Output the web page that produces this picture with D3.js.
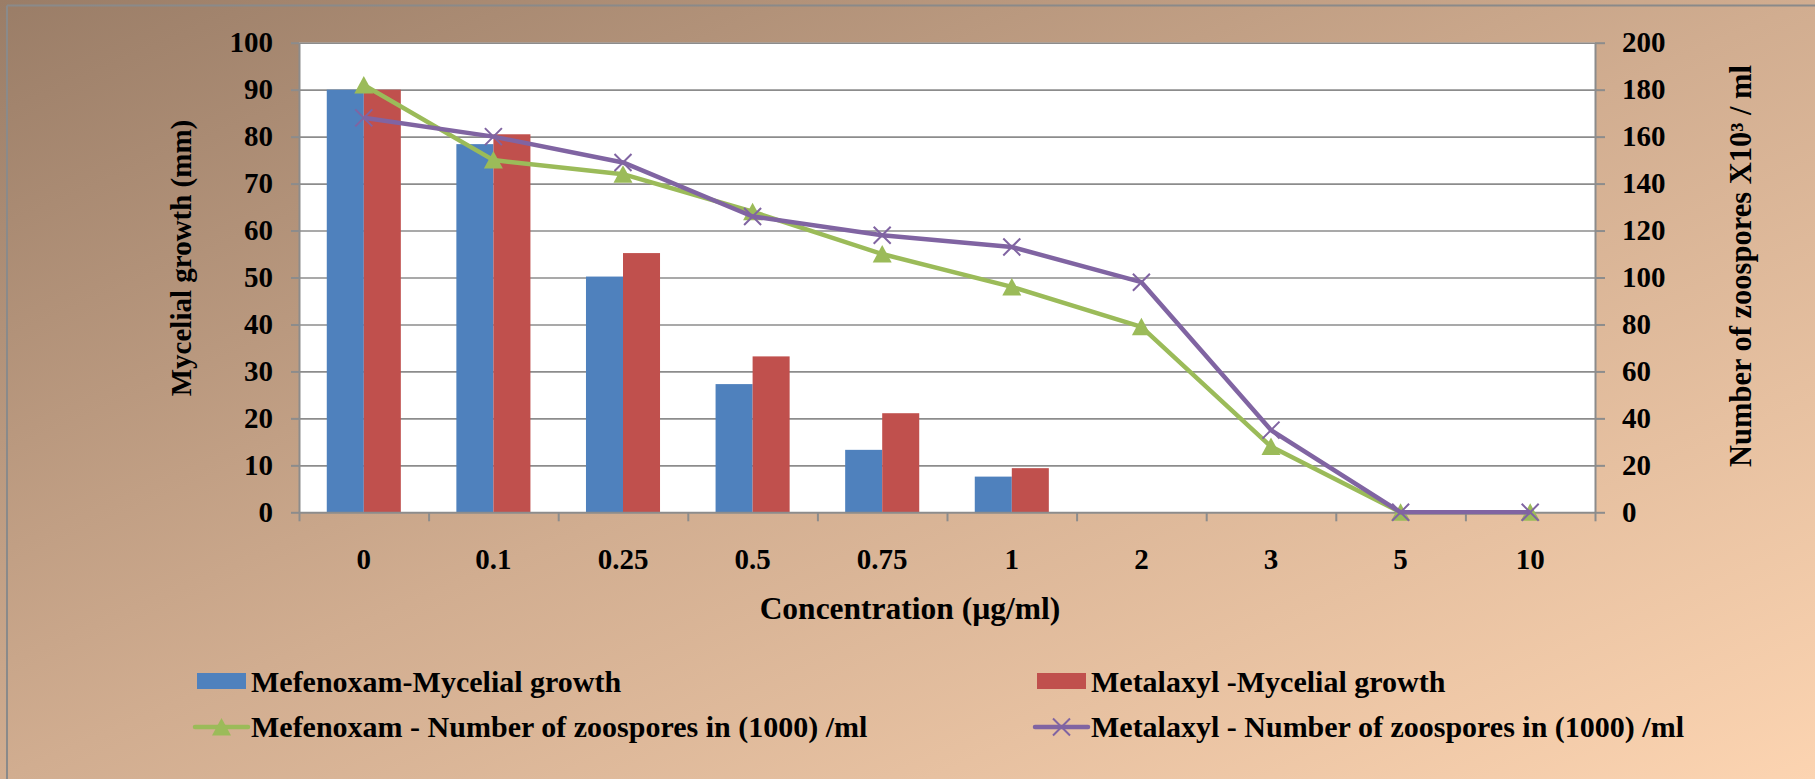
<!DOCTYPE html>
<html><head><meta charset="utf-8">
<script src="https://cdn.jsdelivr.net/npm/d3@7"></script>
<style>
body{margin:0;background:#fff;}
svg{display:block;}
text{font-family:"Liberation Serif","Times New Roman",serif;font-weight:bold;fill:#000;}
</style>
</head><body>
<svg id="c" width="1815" height="779"></svg>
<script>
// ---- data ----
const categories = ["0","0.1","0.25","0.5","0.75","1","2","3","5","10"];
const mefenoxamGrowth = [90, 78.4, 50.2, 27.3, 13.3, 7.6, 0, 0, 0, 0];
const metalaxylGrowth = [90, 80.5, 55.2, 33.2, 21.1, 9.4, 0, 0, 0, 0];
const mefenoxamZoospores = [182, 150, 144, 128, 110, 96, 79, 28, 0, 0];
const metalaxylZoospores = [168, 160, 149, 126, 118, 113, 98, 35, 0, 0];
const leftTicks = [0,10,20,30,40,50,60,70,80,90,100];
const rightTicks = [0,20,40,60,80,100,120,140,160,180,200];
const barSeries = ["Mefenoxam-Mycelial growth","Metalaxyl -Mycelial growth"];
const lineSeries = ["Mefenoxam - Number of zoospores in (1000) /ml","Metalaxyl - Number of zoospores in (1000) /ml"];
const xTitle = "Concentration (µg/ml)";
const yLeftTitle = "Mycelial growth (mm)";
const yRightTitle = "Number of zoospores X10³ / ml";

// ---- layout ----
const W = 1815, H = 779;
const L = 299, R = 1595, T = 42.7, B = 512.3;
const colors = {blue:"#4f81bd", red:"#c0504d", green:"#9bbb59", purple:"#8064a2", grid:"#8c8c8c"};

const svg = d3.select("#c");
const defs = svg.append("defs");
const grad = defs.append("linearGradient").attr("id","bg")
  .attr("x1",0).attr("y1",0).attr("x2",1).attr("y2",1);
grad.append("stop").attr("offset","0").attr("stop-color","#9a7d67");
grad.append("stop").attr("offset","0.5").attr("stop-color","#d1ad90");
grad.append("stop").attr("offset","1").attr("stop-color","#fcd4b1");
svg.append("rect").attr("width",W).attr("height",H).attr("fill","url(#bg)");
// frame (top & left visible)
svg.append("line").attr("x1",7).attr("x2",W).attr("y1",5.5).attr("y2",5.5).attr("stroke","#8a8a8a").attr("stroke-width",2);
svg.append("line").attr("x1",7).attr("x2",7).attr("y1",5.5).attr("y2",H).attr("stroke","#8a8a8a").attr("stroke-width",2);

// scales
const x = d3.scaleBand().domain(categories).range([L,R]).paddingInner(0).paddingOuter(0);
const bw = x.bandwidth();
const barW = bw/3.5;
const x1 = d3.scaleBand().domain([0,1]).range([0.75*barW, bw-0.75*barW]);
const xb = d3.scaleLinear().domain([0,categories.length]).range([L,R]);
const yL = d3.scaleLinear().domain([0,100]).range([B,T]);
const yR = d3.scaleLinear().domain([0,200]).range([B,T]);

// plot area
svg.append("rect").attr("x",L).attr("y",T).attr("width",R-L).attr("height",B-T).attr("fill","#fff");

// gridlines
const grid = svg.append("g").attr("transform",`translate(${L},0)`)
  .call(d3.axisLeft(yL).tickValues(leftTicks.filter(d=>d>0)).tickSize(-(R-L)).tickFormat(""));
grid.select(".domain").remove();
grid.selectAll("line").attr("stroke",colors.grid).attr("stroke-width",1.6);

// bars
const bars = [mefenoxamGrowth, metalaxylGrowth];
const barColors = [colors.blue, colors.red];
bars.forEach((vals,si)=>{
  svg.append("g").selectAll("rect").data(vals).join("rect")
    .attr("x",(d,i)=>x(categories[i])+x1(si))
    .attr("width",x1.bandwidth())
    .attr("y",d=>yL(d))
    .attr("height",d=>B-yL(d))
    .attr("fill",barColors[si]);
});

// axes
function styleAxis(g){
  g.selectAll(".domain").attr("stroke",colors.grid).attr("stroke-width",2);
  g.selectAll(".tick line").attr("stroke",colors.grid).attr("stroke-width",2);
  g.selectAll("text").attr("font-family",null).attr("font-size",null).style("font-size","29px").attr("fill","#000");
}
const axL = svg.append("g").attr("transform",`translate(${L},0)`)
  .call(d3.axisLeft(yL).tickValues(leftTicks).tickSize(8).tickPadding(18).tickSizeOuter(0));
styleAxis(axL);
const axR = svg.append("g").attr("transform",`translate(${R},0)`)
  .call(d3.axisRight(yR).tickValues(rightTicks).tickSize(10).tickPadding(17).tickSizeOuter(0));
styleAxis(axR);
const axB = svg.append("g").attr("transform",`translate(0,${B})`)
  .call(d3.axisBottom(xb).tickValues(d3.range(categories.length+1)).tickSize(9).tickFormat("").tickSizeOuter(0));
styleAxis(axB);
const axBL = svg.append("g").attr("transform",`translate(0,${B})`)
  .call(d3.axisBottom(x).tickSize(0).tickPadding(36));
axBL.select(".domain").remove();
styleAxis(axBL);

// lines
const lines = [mefenoxamZoospores, metalaxylZoospores];
const lineColors = [colors.green, colors.purple];
const lineGen = d3.line().x((d,i)=>x(categories[i])+bw/2).y(d=>yR(d));
const triPath = "M0,-9 L9.5,8.5 L-9.5,8.5 Z";
const xPath = "M-8.5,-8.5 L8.5,8.5 M8.5,-8.5 L-8.5,8.5";
lines.forEach((vals,si)=>{
  svg.append("path").datum(vals).attr("d",lineGen).attr("fill","none")
    .attr("stroke",lineColors[si]).attr("stroke-width",4.5).attr("stroke-linejoin","round");
  const m = svg.append("g").selectAll("path").data(vals).join("path")
    .attr("transform",(d,i)=>`translate(${x(categories[i])+bw/2},${yR(d)})`);
  if(si===0) m.attr("d",triPath).attr("fill",colors.green);
  else m.attr("d",xPath).attr("fill","none").attr("stroke",colors.purple).attr("stroke-width",2);
});

// titles
svg.append("text").attr("x",910).attr("y",619).attr("text-anchor","middle").style("font-size","31.5px").text(xTitle);
svg.append("text").attr("transform","translate(190.5,258) rotate(-90)").attr("text-anchor","middle").style("font-size","29px").text(yLeftTitle);
svg.append("text").attr("transform","translate(1751,266) rotate(-90)").attr("text-anchor","middle").style("font-size","30.5px").text(yRightTitle);

// legend
const lg = svg.append("g");
const col = [197, 1037];
const row1 = 691.5, row2 = 737;
barSeries.forEach((name,i)=>{
  lg.append("rect").attr("x",col[i]).attr("y",673).attr("width",49).attr("height",16).attr("fill",barColors[i]);
  lg.append("text").attr("x",col[i]+54).attr("y",row1).style("font-size","30px").text(name);
});
lineSeries.forEach((name,i)=>{
  const cx = col[i]+24.5;
  lg.append("line").attr("x1",col[i]-2).attr("x2",col[i]+51).attr("y1",727).attr("y2",727)
    .attr("stroke",lineColors[i]).attr("stroke-width",4.5).attr("stroke-linecap","round");
  const m = lg.append("path").attr("transform",`translate(${cx},727)`);
  if(i===0) m.attr("d",triPath).attr("fill",colors.green);
  else m.attr("d",xPath).attr("fill","none").attr("stroke",colors.purple).attr("stroke-width",2);
  lg.append("text").attr("x",col[i]+54).attr("y",row2).style("font-size","30px").text(name);
});
</script>
</body></html>
